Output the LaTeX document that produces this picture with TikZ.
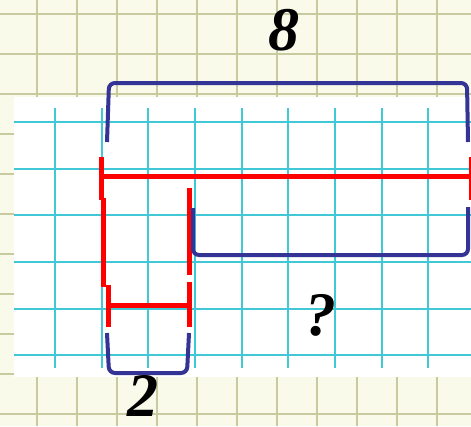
\documentclass[tikz,border=0pt]{standalone}
\usepackage{fontspec}
\setmainfont{Liberation Serif}
\usepackage{xcolor}
\usetikzlibrary{arrows.meta}

\definecolor{paper}{RGB}{250,250,234}
\definecolor{olive}{RGB}{200,202,160}
\definecolor{aqua}{RGB}{64,200,214}
\definecolor{brace}{RGB}{52,52,150}

\begin{document}
\begin{tikzpicture}[x=1pt,y=-1pt,line cap=butt,
  oldgrid/.style={olive,line width=2.6pt},
  newgrid/.style={aqua,line width=1.8pt},
  seg/.style={red,line width=5pt},
  bracket/.style={brace,line width=4pt,rounded corners=6pt},
  num/.style={inner sep=0pt,font=\fontsize{62}{62}\selectfont\bfseries\itshape}]
  \useasboundingbox (0,0) rectangle (471,426);
  \fill[paper] (0,0) rectangle (471,426);
  \begin{scope}
  \clip (0,0) rectangle (471,426);
  \foreach \i in {0,...,12}{
     \draw[oldgrid] (-3+40*\i,0) -- (-3+40*\i,426);
     \draw[oldgrid] (0,14+40*\i) -- (471,14+40*\i);
  }
  \fill[white] (14,97) rectangle (475,377);
  \foreach \i in {0,...,9}
     \draw[newgrid] (55+46.67*\i,108) -- (55+46.67*\i,368);
  \foreach \i in {0,...,5}
     \draw[newgrid] (14,122+46.67*\i) -- (475,122+46.67*\i);
  % whole segment and its part
  \draw[seg] (101,176) -- (475,176);
  \draw[seg] (101,157) -- (101,200);
  \draw[seg] (471,157) -- (471,200);
  \draw[seg] (103,198) -- (103,287);
  \draw[seg] (108,285) -- (108,327);
  \draw[seg] (108,305) -- (189,305);
  \draw[seg] (189,188) -- (189,275);
  \draw[seg] (189,282) -- (189,327);
  % brackets
  \draw[bracket] (107,142) -- (109,83) -- (467,83) -- (468,142);
  \draw[bracket] (193,208) -- (193,255) -- (468,255) -- (468,207);
  \draw[bracket] (107,333) -- (109,373) -- (187,373) -- (189,333);
  \end{scope}
  \node[num] (whole) at (284,30) {8};
  \node[num] (part) at (143,396) {2};
  \node[num] (rest) at (321,315) {?};
\end{tikzpicture}
\end{document}
